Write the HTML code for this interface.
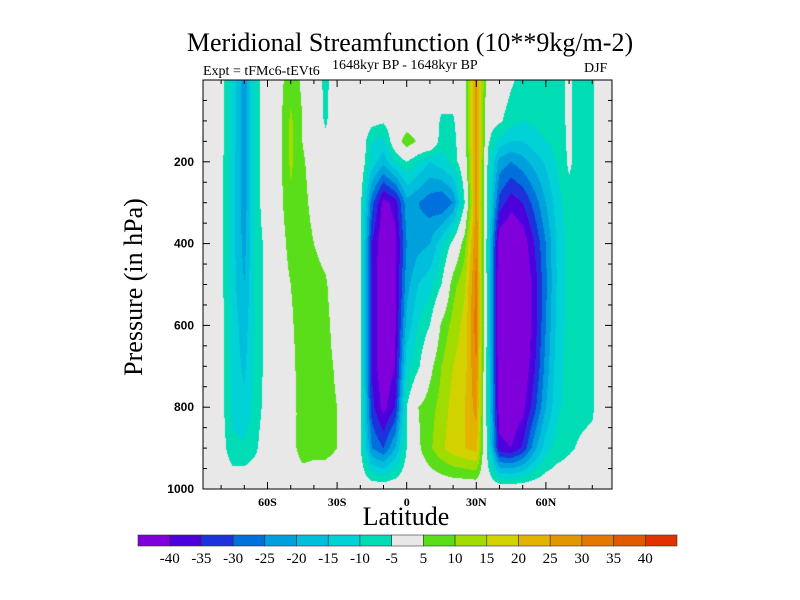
<!DOCTYPE html>
<html><head><meta charset="utf-8"><style>
body{margin:0;background:#fff;}
#wrap{position:relative;width:800px;height:600px;background:#fff;font-family:"Liberation Serif",serif;color:#000;overflow:hidden}
.t{position:absolute;white-space:nowrap}
</style></head><body>
<div id="wrap">
<div class="t" style="left:0;width:820px;text-align:center;top:28px;font-size:26px">Meridional Streamfunction (10**9kg/m-2)</div>
<div class="t" style="left:203px;top:64px;font-size:14px">Expt = tFMc6-tEVt6</div>
<div class="t" style="left:332px;top:58px;font-size:14px">1648kyr BP - 1648kyr BP</div>
<div class="t" style="left:584px;top:61px;font-size:14px">DJF</div>
<div class="t" style="left:134px;top:287px;font-size:26px;transform:translate(-50%,-50%) rotate(-90deg)">Pressure (in hPa)</div>
<div class="t" style="left:306px;width:200px;text-align:center;top:502px;font-size:26px">Latitude</div>
<canvas id="cv" width="409" height="409" style="position:absolute;left:203px;top:80px"></canvas>
<svg id="ax" width="800" height="600" style="position:absolute;left:0;top:0"></svg>
</div>
<script>
const lats=[-90,-85,-80,-75,-70,-65,-60,-55,-50,-45,-40,-35,-30,-25,-20,-15,-10,-5,0,5,10,15,20,25,30,35,40,45,50,55,60,65,70,75,80,85,90];
const pres=[0,100,150,200,300,400,500,600,700,800,900,1000];
const psi=[
[0,0,0,0,0,0,0,0,0,0,0,0],
[0,0,0,0,0,0,0,0,0,0,0,0],
[-3,-3,-3,-3,-3,-3,-3,-3,-3,-3,-2,0],
[-12,-12,-12,-13,-13,-13,-13,-12,-12,-11,-9,0],
[-23,-23,-23,-23,-23,-22,-20,-18,-16,-14,-9,0],
[-8,-8,-8,-8,-8,-8,-8,-8,-8,-8,-6,0],
[0,0,0,0,0,-3,-3,-3,-3,-2,0,0],
[3,3,3,3,3,2,2,0,0,0,0,0],
[8,11,11,11,9,7,5,4,3,2,2,0],
[4,5,5,6,7,8,8,8,8,8,8,0],
[0,0,1,2,3,5,8,8,8,8,7,0],
[-7,-6,-3,0,0,2,6,7,7,7,7,0],
[0,0,0,0,0,0,0,2,4,5,5,0],
[0,0,0,0,0,0,0,0,0,0,0,0],
[0,0,0,0,-3,-4,-4,-4,-4,-4,-4,0],
[0,-3,-10,-12,-28,-35,-36,-36,-36,-33,-25,0],
[0,-4,-12,-18,-42,-45,-45,-45,-45,-42,-30,0],
[0,0,0,-10,-38,-42,-42,-41,-40,-35,-20,0],
[0,0,9,-5,-22,-25,-22,-18,-12,-5,-5,0],
[0,0,4,-10,-25,-22,-15,-10,-6,5,4,0],
[0,0,3,-15,-28,-20,-12,-5,3,8,9,0],
[0,-6,-8,-12,-30,-12,-5,6,10,12,14,0],
[0,-6,-8,-8,-25,-3,8,12,15,17,18,0],
[3,3,3,0,-5,8,14,17,18,20,20,0],
[27,28,28,28,28,30,32,33,30,27,22,0],
[0,-2,-4,-6,-8,-10,-10,-10,-10,-10,-8,0],
[0,-4,-12,-22,-32,-45,-47,-47,-46,-44,-38,0],
[-4,-8,-15,-25,-38,-47,-48,-48,-47,-45,-40,0],
[-7,-10,-15,-22,-35,-44,-46,-46,-45,-42,-34,0],
[-7,-9,-12,-18,-28,-35,-38,-38,-36,-32,-22,0],
[-7,-8,-10,-14,-20,-25,-26,-25,-23,-20,-12,0],
[-7,-7,-8,-9,-12,-14,-14,-13,-12,-11,-8,0],
[-4,-4,-4,-4,-7,-8,-8,-8,-8,-8,-6,0],
[-8,-8,-8,-8,-8,-8,-8,-8,-8,-7,-4,0],
[-6,-6,-6,-6,-6,-6,-6,-6,-6,-6,-3,0],
[0,0,0,0,0,0,0,0,0,0,0,0],
[0,0,0,0,0,0,0,0,0,0,0,0]];
const levels=[-40,-35,-30,-25,-20,-15,-10,-5,5,10,15,20,25,30,35,40];
const levelLabels=["-40","-35","-30","-25","-20","-15","-10","-5","5","10","15","20","25","30","35","40"];
const colors=["#8000dc","#4c00dc","#1e32dc","#0070dc","#00a0dc","#00bedc","#00d2d6","#00dcb4","#e8e8e8","#5ade1a","#a0dc00","#d2d200","#e2b400","#e29600","#e27800","#e25a00","#e03200"];
const yTicks=[200,400,600,800,1000];
const xTicks=[-60,-30,0,30,60];
const xTickLabels=["60S","30S","0","30N","60N"];

const X0=203,X1=612,Y0=80,Y1=489,XC=406.7,XS=2.32;
const xs=l=>XC+l*XS;
const ys=p=>Y0+p/1000*(Y1-Y0);
function hex(c){return [parseInt(c.slice(1,3),16),parseInt(c.slice(3,5),16),parseInt(c.slice(5,7),16)];}
function val(lat,p){
 let i=0;while(i<lats.length-2&&lat>lats[i+1])i++;
 let j=0;while(j<pres.length-2&&p>pres[j+1])j++;
 const tx=Math.max(0,Math.min(1,(lat-lats[i])/(lats[i+1]-lats[i]))),ty=(p-pres[j])/(pres[j+1]-pres[j]);
 const a=psi[i][j],b=psi[i+1][j],c=psi[i][j+1],d=psi[i+1][j+1];
 return a*(1-tx)*(1-ty)+b*tx*(1-ty)+c*(1-tx)*ty+d*tx*ty;
}
const cv=document.getElementById('cv'),ctx=cv.getContext('2d');
const W=cv.width,H=cv.height,img=ctx.createImageData(W,H);
const rgb=colors.map(hex);
for(let y=0;y<H;y++){for(let x=0;x<W;x++){
 const lat=(X0+x+0.5-XC)/XS,p=(y+0.5)/H*1000;
 const v=val(lat,p);let k=0;while(k<levels.length&&v>=levels[k])k++;
 const o=(y*W+x)*4;img.data[o]=rgb[k][0];img.data[o+1]=rgb[k][1];img.data[o+2]=rgb[k][2];img.data[o+3]=255;}}
ctx.putImageData(img,0,0);

const NS='http://www.w3.org/2000/svg',svg=document.getElementById('ax');
function mk(tag,attrs,txt){const e=document.createElementNS(NS,tag);for(const k in attrs)e.setAttribute(k,attrs[k]);if(txt!==undefined)e.textContent=txt;svg.appendChild(e);return e;}
let fr=mk('rect',{x:X0,y:Y0,width:X1-X0,height:Y1-Y0,fill:'none',stroke:'#000','stroke-width':1});


for(let p=50;p<1000;p+=50){const maj=p%200===0;const L=maj?7:4;
 mk('line',{x1:X0,x2:X0+L,y1:ys(p),y2:ys(p),stroke:'#000'});
 mk('line',{x1:X1,x2:X1-L,y1:ys(p),y2:ys(p),stroke:'#000'});}
for(let l=-80;l<=80;l+=10){const maj=l%30===0;const L=maj?7:4;
 mk('line',{x1:xs(l),x2:xs(l),y1:Y1,y2:Y1-L,stroke:'#000'});
 mk('line',{x1:xs(l),x2:xs(l),y1:Y0,y2:Y0+L,stroke:'#000'});}
yTicks.forEach(p=>{const t=mk('text',{x:X0-9,y:ys(p)+4,'text-anchor':'end','font-size':12,'font-weight':'bold','font-family':'Liberation Sans, sans-serif'},String(p));
 
 });
xTicks.forEach((l,i)=>{const t=mk('text',{x:xs(l),y:Y1+17,'text-anchor':'middle','font-size':12,'font-weight':'bold','font-family':'Liberation Serif, serif'},xTickLabels[i]);
 
 });
const CB0=138,CB1=677,CBY=535,CBH=11,bw=(CB1-CB0)/colors.length;
colors.forEach((c,i)=>{const r=mk('rect',{x:CB0+i*bw,y:CBY,width:bw,height:CBH,fill:c,stroke:'#333','stroke-width':0.6});
 
 });
levelLabels.forEach((s,i)=>{const t=mk('text',{x:CB0+(i+1)*bw,y:CBY+28,'text-anchor':'middle','font-size':15,'font-family':'Liberation Serif, serif'},s);
 
 });
</script>
</body></html>
